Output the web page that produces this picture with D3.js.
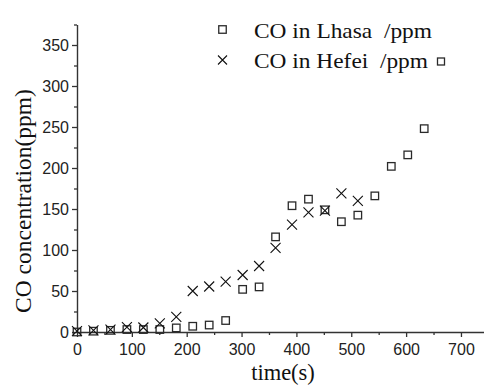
<!DOCTYPE html>
<html>
<head>
<meta charset="utf-8">
<script src="https://cdn.jsdelivr.net/npm/d3@7/dist/d3.min.js"></script>
<style>
  body { margin: 0; background: #fff; }
  svg { display: block; }
  .tick text { font-family: "Liberation Sans", Arial, sans-serif; font-size: 16px; fill: #222; }
  .title { font-family: "Liberation Serif", "Times New Roman", serif; fill: #111; }
</style>
</head>
<body>
<svg width="484" height="390"></svg>
<script>
const lhasaTime = [0, 30, 61, 91, 121, 151, 181, 211, 241, 271, 302, 332, 362, 392, 422, 452, 482, 512, 543, 573, 603, 633]
const lhasaCO   = [0, 1, 2, 3, 3, 3, 5, 7, 8.5, 14, 52, 55, 116, 154, 162, 149, 134.5, 142.5, 166, 202, 216, 248]

const hefeiTime = [0, 30, 61, 91, 121, 151, 181, 211, 241, 271, 302, 332, 362, 392, 422, 452, 482, 512]
const hefeiCO   = [1, 2, 3, 6, 5.5, 10.5, 18.5, 50, 55.5, 61.5, 69.5, 80.5, 102.5, 131, 146, 148, 169, 160]

const xTicks = [0, 100, 200, 300, 400, 500, 600, 700]
const yTicks = [0, 50, 100, 150, 200, 250, 300, 350]
const legendLabels = ['CO in Lhasa  /ppm', 'CO in Hefei  /ppm']

const width = 484
const height = 390
const margin = {top: 24.5, right: 0, bottom: 58, left: 77}

const svg = d3.select('svg')

const x = d3.scaleLinear()
  .domain([0, 742])
  .range([margin.left, width - margin.right])

const y = d3.scaleLinear()
  .domain([0, 375])
  .range([height - margin.bottom, margin.top])

const axisColor = '#333'

// minor ticks first, then major ones with labels
svg.append('g')
  .attr('transform', `translate(0, ${y(0)})`)
  .call(d3.axisBottom(x).tickValues(xTicks.map(d => d + 50)).tickSize(3).tickFormat('').tickSizeOuter(0))
  .call(g => g.select('.domain').remove())
  .call(g => g.selectAll('line').attr('stroke', axisColor).attr('stroke-width', 1.3))

svg.append('g')
  .attr('transform', `translate(${x(0)}, 0)`)
  .call(d3.axisLeft(y).tickValues(yTicks.map(d => d + 25)).tickSize(3).tickFormat('').tickSizeOuter(0))
  .call(g => g.select('.domain').remove())
  .call(g => g.selectAll('line').attr('stroke', axisColor).attr('stroke-width', 1.3))

const xAxis = g =>
  g.attr('transform', `translate(0, ${y(0)})`)
   .call(d3.axisBottom(x).tickValues(xTicks).tickSize(5).tickPadding(3).tickSizeOuter(0))
   .call(g => g.select('.domain').attr('stroke', axisColor).attr('stroke-width', 1.4))
   .call(g => g.selectAll('.tick line').attr('stroke', axisColor).attr('stroke-width', 1.3))

const yAxis = g =>
  g.attr('transform', `translate(${x(0)}, 0)`)
   .call(d3.axisLeft(y).tickValues(yTicks).tickSize(5).tickPadding(3).tickSizeOuter(0))
   .call(g => g.select('.domain').attr('stroke', axisColor).attr('stroke-width', 1.4))
   .call(g => g.selectAll('.tick line').attr('stroke', axisColor).attr('stroke-width', 1.3))

svg.append('g').attr('class', 'x-axis').call(xAxis)
svg.append('g').attr('class', 'y-axis').call(yAxis)

svg.selectAll('.tick text').attr('font-family', null).attr('font-size', null)
svg.selectAll('.x-axis .tick text').attr('dy', '0.95em')

// axis titles
svg.append('text')
  .attr('class', 'title')
  .attr('x', 283)
  .attr('y', 380)
  .attr('text-anchor', 'middle')
  .style('font-size', '22.5px')
  .text('time(s)')

svg.append('text')
  .attr('class', 'title')
  .attr('transform', 'translate(31, 201) rotate(-90)')
  .attr('text-anchor', 'middle')
  .style('font-size', '23.5px')
  .text('CO concentration(ppm)')

// markers
function square(sel, size) {
  return sel.append('rect')
    .attr('x', -size / 2).attr('y', -size / 2)
    .attr('width', size).attr('height', size)
    .attr('fill', 'none').attr('stroke', '#2a2a2a').attr('stroke-width', 1.3)
}

function cross(sel, size) {
  const h = size / 2
  return sel.append('path')
    .attr('d', `M${-h},${-h}L${h},${h}M${-h},${h}L${h},${-h}`)
    .attr('fill', 'none').attr('stroke', '#111').attr('stroke-width', 1.1)
}

const lhasa = lhasaTime.map((t, i) => ({t, v: lhasaCO[i]}))
const hefei = hefeiTime.map((t, i) => ({t, v: hefeiCO[i]}))

svg.append('g').attr('class', 'lhasa')
  .selectAll('g')
  .data(lhasa)
  .join('g')
    .attr('transform', d => `translate(${x(d.t)}, ${y(d.v)})`)
    .each(function () { square(d3.select(this), 7.5) })

svg.append('g').attr('class', 'hefei')
  .selectAll('g')
  .data(hefei)
  .join('g')
    .attr('transform', d => `translate(${x(d.t)}, ${y(d.v)})`)
    .each(function () { cross(d3.select(this), 10) })

// legend
const legend = svg.append('g').attr('class', 'legend')

const row1 = legend.append('g').attr('transform', 'translate(222.5, 29.5)')
square(row1, 7.5)
const row2 = legend.append('g').attr('transform', 'translate(222.5, 60)')
cross(row2, 9)

// the reference text is a little wider than the font, so stretch it
const labelWidths = [178, 174]
legend.selectAll('text')
  .data(legendLabels)
  .join('text')
    .attr('class', 'title')
    .attr('x', 254)
    .attr('y', (d, i) => 37.5 + i * 30)
    .attr('textLength', (d, i) => labelWidths[i])
    .attr('lengthAdjust', 'spacingAndGlyphs')
    .style('font-size', '21.5px')
    .style('white-space', 'pre')
    .text(d => d)

// stray square after the second legend label
square(legend.append('g').attr('transform', `translate(${254 + labelWidths[1] + 13}, 61.5)`), 7)
</script>
</body>
</html>
